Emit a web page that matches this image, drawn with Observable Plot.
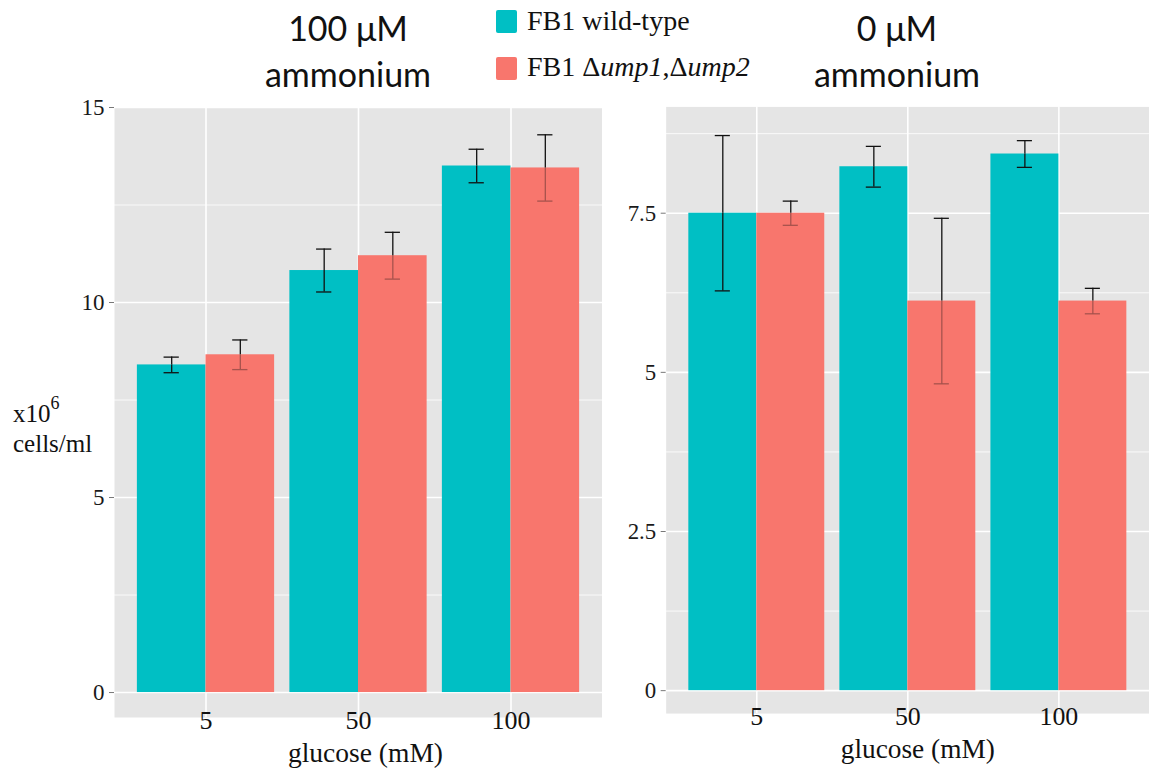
<!DOCTYPE html>
<html>
<head>
<meta charset="utf-8">
<script src="https://cdn.jsdelivr.net/npm/d3@7"></script>
<script src="https://cdn.jsdelivr.net/npm/@observablehq/plot@0.6"></script>
<style>
  html, body { margin: 0; padding: 0; background: #fff; }
  body { width: 1149px; height: 774px; position: relative; overflow: hidden; }
  .abs { position: absolute; }
  .title { font-family: Lato, "Open Sans", sans-serif; font-size: 34px; color: #111; text-align: center; width: 300px; line-height: 46px; }
  .leg { font-family: "Liberation Serif", "Times New Roman", serif; font-size: 28px; color: #111; white-space: nowrap; }
  .sw { width: 21px; height: 23px; border-radius: 2px; }
  .ylab { font-family: "Liberation Serif", "Times New Roman", serif; font-size: 25px; color: #111; line-height: 30px; }
</style>
</head>
<body>
<div id="left" class="abs" style="left:0;top:0"></div>
<div id="right" class="abs" style="left:605px;top:0"></div>

<div class="abs title" style="left:198px;top:5px">100 μM<br>ammonium</div>
<div class="abs title" style="left:747px;top:5px">0 μM<br>ammonium</div>

<div class="abs sw" id="sw0" style="left:496px;top:10px"></div>
<div class="abs leg" id="lg0" style="left:527px;top:5px"></div>
<div class="abs sw" id="sw1" style="left:496px;top:57px"></div>
<div class="abs leg" id="lg1" style="left:527px;top:51px"></div>

<div class="abs ylab" style="left:13px;top:392px">x10<sup style="font-size:18px;position:relative;top:-4px">6</sup><br>cells/ml</div>

<script>
// ---- data ----
const glucose = ["5", "50", "100"];
const genotypes = ["FB1 wild-type", "FB1 Δump1,Δump2"];
const colors = ["#00BFC4", "#F8766D"];

// 100 µM ammonium
const wt100 = [8.4, 10.82, 13.5];
const wt100Err = [0.2, 0.55, 0.43];
const mut100 = [8.66, 11.2, 13.45];
const mut100Err = [0.38, 0.6, 0.85];

// 0 µM ammonium
const wt0 = [7.5, 8.23, 8.43];
const wt0Err = [1.22, 0.32, 0.21];
const mut0 = [7.5, 6.12, 6.12];
const mut0Err = [0.19, 1.3, 0.2];

const leftTicks = [0, 5, 10, 15];
const leftMinor = [2.5, 7.5, 12.5];
const rightTicks = [0, 2.5, 5, 7.5];
const rightMinor = [1.25, 3.75, 6.25, 8.75];

// legend
document.getElementById("sw0").style.background = colors[0];
document.getElementById("sw1").style.background = colors[1];
document.getElementById("lg0").textContent = genotypes[0];
document.getElementById("lg1").innerHTML = "FB1 Δ<i>ump1</i>,Δ<i>ump2</i>";

const dodge = 0.45, cap = 0.05;

function rows(wt, wtErr, mut, mutErr) {
  const out = [];
  glucose.forEach((g, i) => {
    out.push({g, gi: i + 1, geno: genotypes[0], k: 0, v: wt[i], e: wtErr[i]});
    out.push({g, gi: i + 1, geno: genotypes[1], k: 1, v: mut[i], e: mutErr[i]});
  });
  out.forEach(d => { d.x1 = d.gi - dodge + d.k * dodge; d.x2 = d.x1 + dodge; d.xc = (d.x1 + d.x2) / 2; });
  return out;
}

function panel({data, yDomain, ticks, minor, width, marginLeft, labelDx}) {
  return Plot.plot({
    width, height: 774,
    marginLeft, marginRight: 0, marginTop: 107, marginBottom: 57,
    style: {fontFamily: "'Liberation Serif', 'Times New Roman', serif", background: "transparent"},
    x: {domain: [0.4, 3.6], axis: null},
    y: {domain: yDomain, axis: null},
    color: {domain: genotypes, range: colors},
    marks: [
      Plot.frame({fill: "#E5E5E5", stroke: "none"}),
      Plot.ruleY(minor, {stroke: "#fff", strokeWidth: 0.8}),
      Plot.ruleY(ticks, {stroke: "#fff", strokeWidth: 1.6}),
      Plot.ruleX([1, 2, 3], {stroke: "#fff", strokeWidth: 1.6}),
      Plot.rectY(data, {x1: "x1", x2: "x2", y: "v", fill: "geno"}),
      // lower error segment (partly hidden look for mutant bars)
      Plot.ruleX(data, {x: "xc", y1: d => d.v - d.e, y2: "v", stroke: "#111", strokeWidth: 1.3, strokeOpacity: d => d.k ? 0.35 : 1}),
      Plot.ruleY(data, {y: d => d.v - d.e, x1: d => d.xc - cap, x2: d => d.xc + cap, stroke: "#111", strokeWidth: 1.3, strokeOpacity: d => d.k ? 0.35 : 1}),
      // upper error segment
      Plot.ruleX(data, {x: "xc", y1: "v", y2: d => d.v + d.e, stroke: "#111", strokeWidth: 1.3}),
      Plot.ruleY(data, {y: d => d.v + d.e, x1: d => d.xc - cap, x2: d => d.xc + cap, stroke: "#111", strokeWidth: 1.3}),
      // y axis
      Plot.axisY({ticks, tickFormat: d => String(d), tickSize: 5, tickPadding: 5, fontSize: 23, label: null, fill: "#1a1a1a", stroke: "#777"}),
      // x tick labels
      Plot.text(glucose.map((g, i) => ({g, gi: i + 1})), {x: "gi", text: "g", frameAnchor: "bottom", dy: 3, lineAnchor: "middle", fontSize: 26, fill: "#111"}),
      // x axis label
      Plot.text(["glucose (mM)"], {frameAnchor: "bottom", dy: 36, dx: labelDx, lineAnchor: "middle", fontSize: 27.5, fill: "#111"})
    ]
  });
}

document.getElementById("left").append(panel({
  data: rows(wt100, wt100Err, mut100, mut100Err),
  yDomain: [-0.64, 15], ticks: leftTicks, minor: leftMinor,
  width: 602, marginLeft: 114, labelDx: 7
}));

document.getElementById("right").append(panel({
  data: rows(wt0, wt0Err, mut0, mut0Err),
  yDomain: [-0.36, 9.17], ticks: rightTicks, minor: rightMinor,
  width: 547, marginLeft: 61, labelDx: 10
}));
</script>
</body>
</html>
